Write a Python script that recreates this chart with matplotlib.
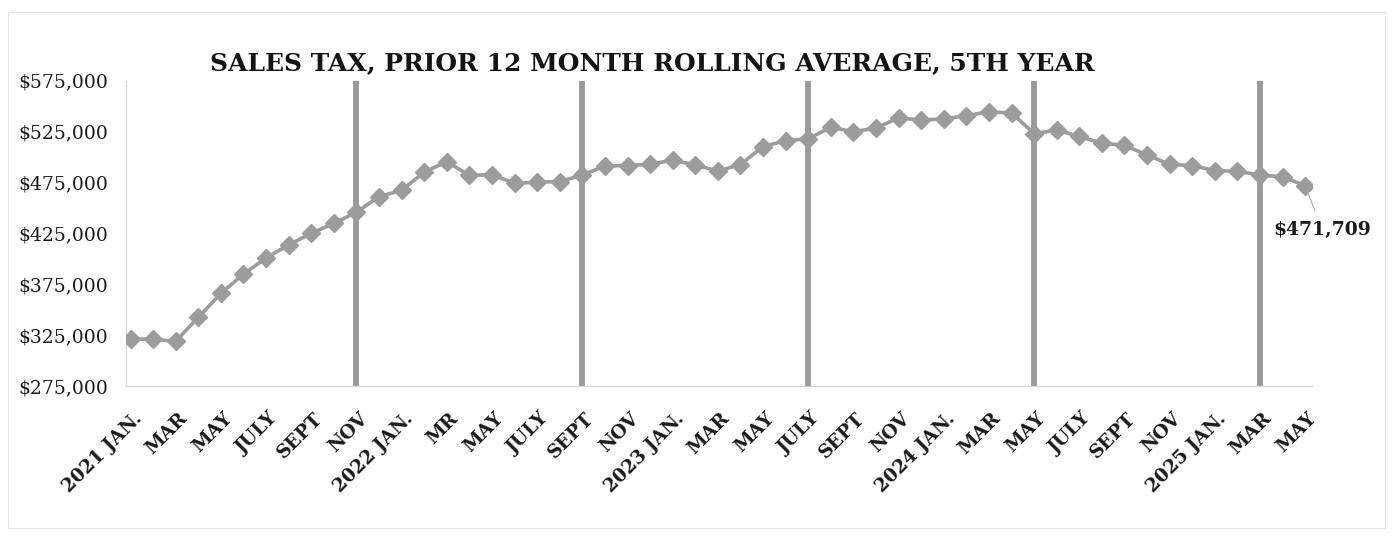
import matplotlib
matplotlib.use("Agg")
import matplotlib.pyplot as plt
import matplotlib.transforms as mtransforms
from matplotlib.patches import Rectangle

# ---------------- data ----------------
months = [
    "2021 JAN.", "FEB", "MAR", "APR", "MAY", "JUNE", "JULY", "AUG", "SEPT", "OCT", "NOV", "DEC",
    "2022 JAN.", "FEB", "MR", "APR", "MAY", "JUNE", "JULY", "AUG", "SEPT", "OCT", "NOV", "DEC",
    "2023 JAN.", "FEB", "MAR", "APR", "MAY", "JUNE", "JULY", "AUG", "SEPT", "OCT", "NOV", "DEC",
    "2024 JAN.", "FEB", "MAR", "APR", "MAY", "JUNE", "JULY", "AUG", "SEPT", "OCT", "NOV", "DEC",
    "2025 JAN.", "FEB", "MAR", "APR", "MAY",
]
values = [
    321100, 320900, 318800, 342400, 365900, 384900, 400700, 413600, 424900, 434700, 445700, 461000,
    467100, 485100, 495200, 481900, 482400, 474100, 475200, 475700, 482200, 491000, 491500, 492700,
    496800, 492100, 486000, 492500, 510100, 515900, 517700, 529100, 524700, 528400, 538300, 536100,
    537300, 540500, 544300, 543100, 522900, 526200, 520100, 513400, 511300, 501900, 492600, 491500,
    486400, 485900, 482100, 480400, 471709,
]
# month positions (index into months) that carry a vertical divider line
divider_idx = [10, 20, 30, 40, 50]
# every other month is labelled on the x axis
tick_idx = list(range(0, len(months), 2))
tick_labels = [months[i] for i in tick_idx]
y_ticks = [275000, 325000, 375000, 425000, 475000, 525000, 575000]
last_label = "$471,709"
title = "SALES TAX, PRIOR 12 MONTH ROLLING AVERAGE, 5TH YEAR"

# ---------------- figure ----------------
W, H = 1398, 558
fig = plt.figure(figsize=(W / 100, H / 100), dpi=100)
fig.patch.set_facecolor("white")

ax = fig.add_axes([126 / W, 1 - 386 / H, 1186 / W, 305.5 / H])
x = list(range(len(values)))
gray = "#9c9c9c"

ax.vlines(divider_idx, y_ticks[0], y_ticks[-1], colors="#9a9a9a", linewidth=4.2, zorder=1)
ax.plot(x, values, color=gray, linewidth=2.6, marker="D", markersize=9.5,
        markerfacecolor=gray, markeredgecolor=gray, zorder=3)

ax.set_xlim(-0.2, len(values) - 0.7)
ax.set_ylim(y_ticks[0], y_ticks[-1])

ax.set_yticks(y_ticks)
ax.set_yticklabels([f"${v:,.0f}" for v in y_ticks], fontfamily="DejaVu Serif", fontsize=13.5,
                   color="#1a1a1a")
ax.set_xticks(tick_idx)
ax.set_xticklabels(tick_labels, rotation=45, ha="right", va="top", rotation_mode="anchor",
                   fontfamily="DejaVu Serif", fontweight="bold", fontsize=13.5, color="#1a1a1a")
ax.tick_params(axis="y", length=0, pad=13)
ax.tick_params(axis="x", length=0, pad=17)
offset = mtransforms.ScaledTranslation(1.5 / 72, 0, fig.dpi_scale_trans)
for lbl in ax.get_xticklabels():
    lbl.set_transform(lbl.get_transform() + offset)

for side in ("top", "right"):
    ax.spines[side].set_visible(False)
for side in ("left", "bottom"):
    ax.spines[side].set_color("#d6d6d6")
    ax.spines[side].set_linewidth(0.9)
    ax.spines[side].set_linestyle((0, (2, 1)))

ax.annotate(last_label, xy=(x[-1], values[-1]), xytext=(x[-1] + 0.75, 428500),
            textcoords="data", ha="center", va="center",
            fontfamily="DejaVu Serif", fontweight="bold", fontsize=13.5, color="#1a1a1a",
            arrowprops=dict(arrowstyle="-", color="#a8a8a8", lw=0.8, shrinkA=6, shrinkB=5),
            annotation_clip=False)

fig.text(652 / W, 1 - 63 / H, title, ha="center", va="center",
         fontfamily="DejaVu Serif", fontweight="bold", fontsize=18, color="#141414")

fig.patches.append(Rectangle((8 / W, 1 - 528 / H), 1377 / W, 516 / H, transform=fig.transFigure,
                             fill=False, edgecolor="#e4e4e4", linewidth=0.8, zorder=0))

fig.savefig("out.png", dpi=100, facecolor="white")
